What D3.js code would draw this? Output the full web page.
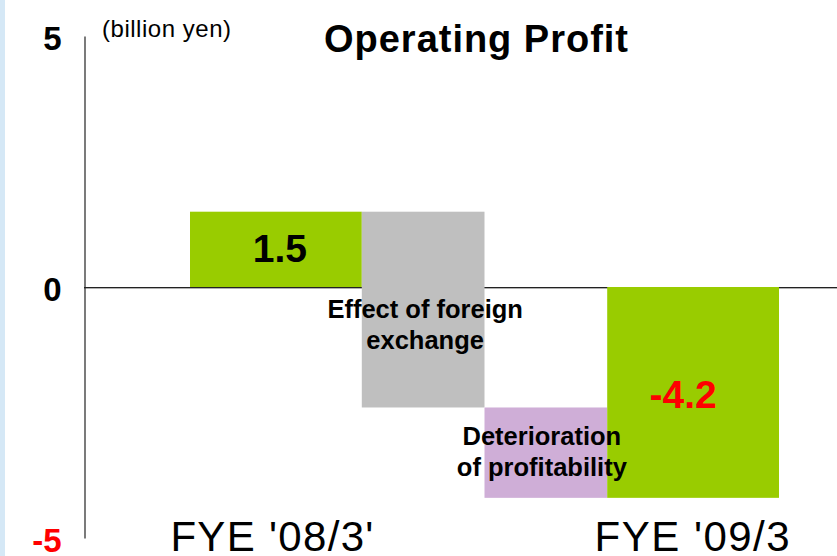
<!DOCTYPE html>
<html>
<head>
<meta charset="utf-8">
<script src="https://cdn.jsdelivr.net/npm/d3@7"></script>
<style>
    html, body { margin: 0; padding: 0; background: #fff; }
    svg { display: block; font-family: Arial, "Liberation Sans", sans-serif; }
</style>
</head>
<body>
<div id="chart"></div>
<script>
// Waterfall steps (billion yen)
const steps = ["FYE '08/3'", 'Effect of foreign exchange', 'Deterioration of profitability', "FYE '09/3"];
const stepValues = [1.5, -3.9, -1.8, -4.2];
const stepIsTotal = [true, false, false, true];
const stepWidths = [1.4, 1, 1, 1.4];
const stepColors = ['#99cc00', '#bfbfbf', '#cfaed7', '#99cc00'];
const stepLabelLines = [[], ['Effect of foreign', 'exchange'], ['Deterioration', 'of profitability'], []];
const categoryLabels = ["FYE '08/3'", "FYE '09/3"];
const yTicks = [5, 0, -5];

const width = 837;
const height = 556;

const svg = d3.select('#chart')
    .append('svg')
    .attr('width', width)
    .attr('height', height);

// light blue strip on the left edge
svg.append('rect')
    .attr('x', 0).attr('y', 0)
    .attr('width', 5).attr('height', height)
    .attr('fill', '#d5e8f6');

const y = d3.scaleLinear().domain([-5, 5]).range([538, 36]);

// cumulative positions along x
let acc = 0;
let running = 0;
const bars = steps.map((name, i) => {
    const x0 = acc;
    acc += stepWidths[i];
    let lo, hi;
    if (stepIsTotal[i]) {
        lo = Math.min(0, stepValues[i]);
        hi = Math.max(0, stepValues[i]);
        running = stepValues[i];
    } else {
        const next = running + stepValues[i];
        lo = Math.min(running, next);
        hi = Math.max(running, next);
        running = next;
    }
    return { name, value: stepValues[i], x0, x1: acc, lo, hi, color: stepColors[i], lines: stepLabelLines[i], total: stepIsTotal[i] };
});

const x = d3.scaleLinear().domain([0, acc]).range([190, 779]);

// zero line
svg.append('line')
    .attr('x1', 84).attr('x2', width)
    .attr('y1', y(0) + 1.5).attr('y2', y(0) + 1.5)
    .attr('stroke', '#b0b0b0').attr('stroke-width', 1);
svg.append('line')
    .attr('x1', 84).attr('x2', width)
    .attr('y1', y(0) + 0.5).attr('y2', y(0) + 0.5)
    .attr('stroke', '#222').attr('stroke-width', 1.2);

// bars
svg.append('g')
    .selectAll('rect')
    .data(bars)
    .enter()
    .append('rect')
    .attr('x', d => x(d.x0))
    .attr('y', d => y(d.hi))
    .attr('width', d => x(d.x1) - x(d.x0))
    .attr('height', d => y(d.lo) - y(d.hi))
    .attr('fill', d => d.color);

// vertical axis (plain hyphen for negatives)
const axis = svg.append('g')
    .attr('transform', 'translate(84.5,0)')
    .call(d3.axisLeft(y).tickValues(yTicks).tickSize(0).tickPadding(23).tickFormat(d => String(d)));
axis.select('.domain').attr('stroke', '#222').attr('stroke-width', 1.2);
axis.selectAll('text')
    .attr('font-family', 'Arial, "Liberation Sans", sans-serif')
    .attr('font-size', 33)
    .attr('font-weight', 'bold')
    .attr('dy', '0.42em')
    .attr('fill', d => d < 0 ? '#ff0000' : '#000');

// unit + title
svg.append('text')
    .attr('x', 102).attr('y', 37)
    .attr('font-size', 24)
    .attr('textLength', 129)
    .text('(billion yen)');

svg.append('text')
    .attr('x', 476).attr('y', 52)
    .attr('text-anchor', 'middle')
    .attr('font-size', 38)
    .attr('font-weight', 'bold')
    .attr('textLength', 304)
    .text('Operating Profit');

// values on total bars
const totals = bars.filter(d => d.total);
svg.append('g')
    .selectAll('text')
    .data(totals)
    .enter()
    .append('text')
    .attr('x', (d, i) => (x(d.x0) + x(d.x1)) / 2 + (i === 0 ? 4 : -10))
    .attr('y', d => d.value > 0 ? y(d.value / 2) + 13 : y(d.value / 2) + 16)
    .attr('text-anchor', 'middle')
    .attr('font-size', 39)
    .attr('font-weight', 'bold')
    .attr('fill', d => d.value < 0 ? '#ff0000' : '#000')
    .text(d => d.value.toFixed(1));

// labels on change bars
const deltas = bars.filter(d => !d.total);
const deltaLabels = svg.append('g')
    .selectAll('text')
    .data(deltas)
    .enter()
    .append('text')
    .attr('text-anchor', 'middle')
    .attr('font-size', 25.5)
    .attr('font-weight', 'bold')
    .attr('y', (d, i) => i === 0 ? y(0) + 31 : y(d.hi) + 38);
deltaLabels.selectAll('tspan')
    .data((d, i) => d.lines.map(t => ({ t, cx: (x(d.x0) + x(d.x1)) / 2 + (i === 0 ? 2 : -4) })))
    .enter()
    .append('tspan')
    .attr('x', d => d.cx)
    .attr('dy', (d, i) => i === 0 ? 0 : 31)
    .text(d => d.t);

// category labels under total bars
svg.append('g')
    .selectAll('text')
    .data(totals)
    .enter()
    .append('text')
    .attr('x', (d, i) => (x(d.x0) + x(d.x1)) / 2 + (i === 0 ? -4 : -1))
    .attr('y', 551)
    .attr('text-anchor', 'middle')
    .attr('font-size', 42)
    .attr('textLength', (d, i) => i === 0 ? 203 : 195)
    .text((d, i) => categoryLabels[i]);
</script>
</body>
</html>
